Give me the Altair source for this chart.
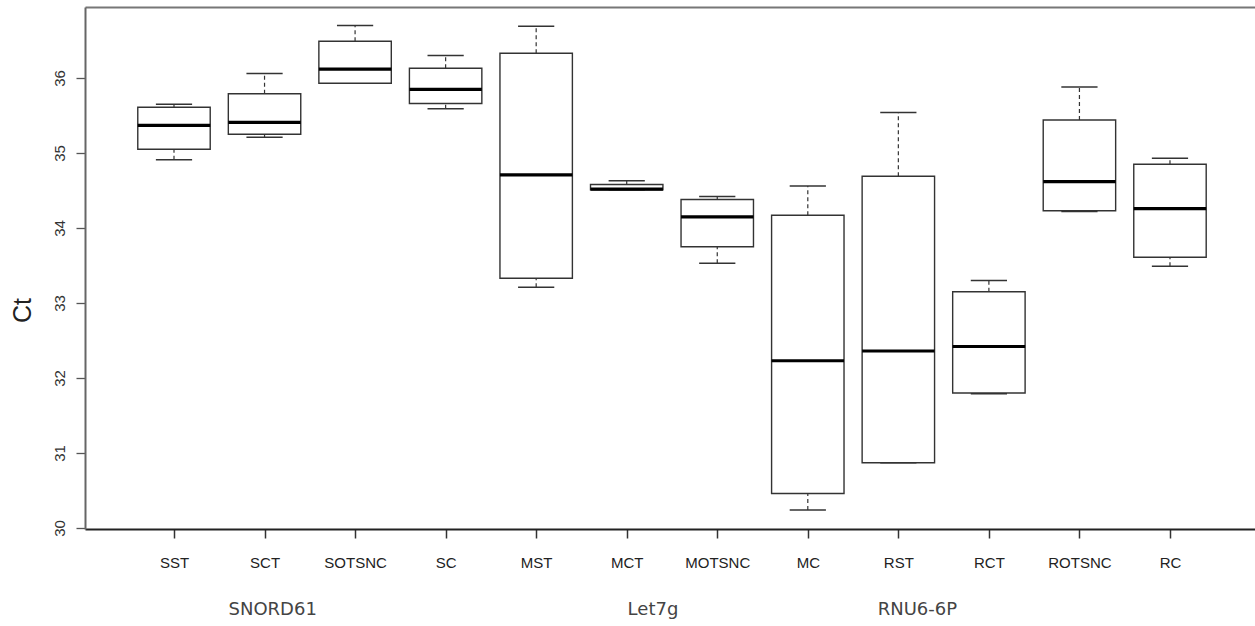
import json
import altair as alt
import pandas as pd

# ---- data ----
categories = ["SST", "SCT", "SOTSNC", "SC", "MST", "MCT", "MOTSNC", "MC",
              "RST", "RCT", "ROTSNC", "RC"]
lower_whisker = [34.91, 35.21, 35.93, 35.59, 33.21, 34.51, 33.53, 30.24, 30.87, 31.79, 34.22, 33.49]
lower_hinge   = [35.05, 35.25, 35.93, 35.66, 33.33, 34.51, 33.75, 30.46, 30.87, 31.80, 34.23, 33.61]
median        = [35.37, 35.41, 36.12, 35.85, 34.71, 34.52, 34.15, 32.23, 32.36, 32.42, 34.62, 34.26]
upper_hinge   = [35.61, 35.79, 36.49, 36.13, 36.33, 34.58, 34.38, 34.17, 34.69, 33.15, 35.44, 34.85]
upper_whisker = [35.65, 36.06, 36.70, 36.30, 36.69, 34.63, 34.42, 34.56, 35.54, 33.30, 35.88, 34.93]
y_ticks = [30, 31, 32, 33, 34, 35, 36]

group_labels = ["SNORD61", "Let7g", "RNU6-6P"]
group_label_pos = [2.09, 6.29, 9.21]

df = pd.DataFrame({
    "cat": categories,
    "pos": list(range(1, len(categories) + 1)),
    "lw": lower_whisker,
    "lh": lower_hinge,
    "med": median,
    "uh": upper_hinge,
    "uw": upper_whisker,
})
gdf = pd.DataFrame({"label": group_labels, "pos": group_label_pos})

W, H = 1170, 522
xdom = [0.0171, 12.939]
ydom = [29.987, 36.947]
xscale = alt.Scale(domain=xdom, nice=False, zero=False)
yscale = alt.Scale(domain=ydom, nice=False, zero=False)

label_expr = json.dumps(categories) + "[datum.value - 1]"

x_bottom_axis = alt.Axis(
    orient="bottom", values=list(range(1, len(categories) + 1)), labelExpr=label_expr,
    title=None, grid=False, domainColor="#222", domainWidth=2,
    tickColor="#333", tickWidth=1.5, tickSize=9,
    labelFont="Liberation Sans", labelFontSize=15, labelColor="#222",
    labelPadding=17, labelAngle=0, labelAlign="center", labelBaseline="top",
)
x_top_axis = alt.Axis(
    orient="top", title=None, grid=False, labels=False, ticks=False,
    domainColor="#777", domainWidth=2,
)
y_axis = alt.Axis(
    orient="left", values=y_ticks, title="Ct", grid=False, domainColor="#666", domainWidth=2,
    tickColor="#555", tickWidth=1.3, tickSize=9,
    labelFont="Liberation Sans", labelFontSize=15, labelColor="#333",
    labelAngle=270, labelAlign="center", labelBaseline="alphabetic", labelPadding=12,
    titleFont="Liberation Sans", titleFontSize=25, titleColor="#222", titleFontWeight="normal",
    titleAngle=270, titleAlign="center", titleBaseline="middle", titleX=-63, titleY=303,
)

base = alt.Chart(df).transform_calculate(
    bl="datum.pos - 0.4", br="datum.pos + 0.4",
    cl="datum.pos - 0.2", cr="datum.pos + 0.2",
)

line_col = "#333"

up_whisk = base.mark_rule(color=line_col, strokeWidth=1.2, strokeDash=[4, 3]).encode(
    x=alt.X("pos:Q", scale=xscale, axis=None),
    y=alt.Y("uh:Q", scale=yscale, axis=y_axis),
    y2="uw:Q",
)
lo_whisk = base.mark_rule(color=line_col, strokeWidth=1.2, strokeDash=[4, 3]).encode(
    x=alt.X("pos:Q", scale=xscale, axis=None),
    y=alt.Y("lw:Q", scale=yscale, axis=y_axis),
    y2="lh:Q",
)
up_cap = base.mark_rule(color=line_col, strokeWidth=1.4).encode(
    x=alt.X("cl:Q", scale=xscale, axis=x_top_axis),
    x2="cr:Q",
    y=alt.Y("uw:Q", scale=yscale, axis=y_axis),
)
lo_cap = base.mark_rule(color=line_col, strokeWidth=1.4).encode(
    x=alt.X("cl:Q", scale=xscale, axis=None),
    x2="cr:Q",
    y=alt.Y("lw:Q", scale=yscale, axis=y_axis),
)
boxes = base.mark_rect(fill="white", stroke=line_col, strokeWidth=1.4).encode(
    x=alt.X("bl:Q", scale=xscale, axis=None),
    x2="br:Q",
    y=alt.Y("lh:Q", scale=yscale, axis=y_axis),
    y2="uh:Q",
)
medians = base.mark_rule(color="black", strokeWidth=3.2).encode(
    x=alt.X("bl:Q", scale=xscale, axis=None),
    x2="br:Q",
    y=alt.Y("med:Q", scale=yscale, axis=y_axis),
)
ticks_layer = alt.Chart(df).mark_point(opacity=0).encode(
    x=alt.X("pos:Q", scale=xscale, axis=x_bottom_axis),
    y=alt.Y("med:Q", scale=yscale, axis=y_axis),
)
groups = alt.Chart(gdf).mark_text(
    font="DejaVu Sans", fontSize=18, color="#444", baseline="middle", align="center"
).encode(
    x=alt.X("pos:Q", scale=xscale, axis=None),
    y=alt.value(603),
    text="label:N",
)

chart = alt.layer(
    up_whisk, lo_whisk, up_cap, lo_cap, boxes, medians, ticks_layer, groups
).resolve_axis(x="independent", y="shared").properties(
    width=W, height=H,
    autosize=alt.AutoSizeParams(type="none"),
    padding={"left": 85, "top": 7, "right": 0, "bottom": 97},
    background="white",
).configure_view(stroke=None)

chart.save("out.html", embed_options={"renderer": "svg", "actions": False})
